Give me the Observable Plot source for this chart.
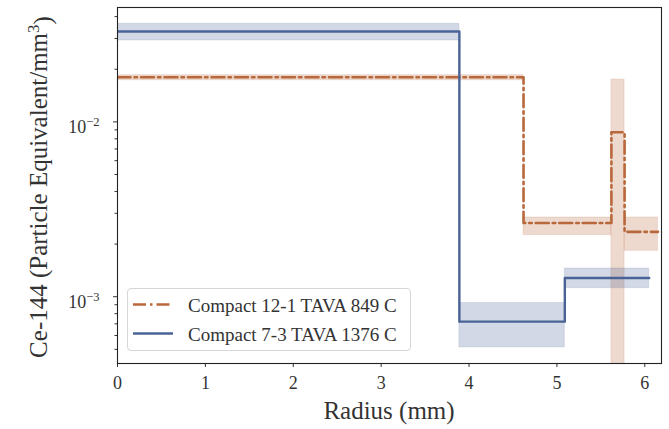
<!DOCTYPE html>
<html>
<head>
<meta charset="utf-8">
<script src="https://cdn.jsdelivr.net/npm/d3@7"></script>
<script src="https://cdn.jsdelivr.net/npm/@observablehq/plot@0.6"></script>
<style>
  body { margin: 0; background: #fff; }
  #wrap { position: relative; width: 669px; height: 429px; overflow: hidden; font-family: "Liberation Serif", "Times New Roman", serif; }
  #legend { position: absolute; left: 127px; top: 288px; width: 284px; height: 63px; box-sizing: border-box;
            border: 1px solid #d6d6d6; border-radius: 4px; background: rgba(255,255,255,0.85); }
  .row { position: absolute; left: 0; height: 28px; width: 100%; }
  .row svg { position: absolute; left: 4px; top: 0; }
  .row span { position: absolute; left: 60px; top: 2px; font-size: 19px; line-height: 24px; color: #333; white-space: nowrap; }
</style>
</head>
<body>
<div id="wrap"></div>
<script>
// ---- data ----
const seriesNames = ["Compact 12-1 TAVA 849 C", "Compact 7-3 TAVA 1376 C"];
const orangeEdges  = [0, 4.62, 5.62, 5.77, 6.15];
const orangeValues = [0.0180, 0.00264, 0.00872, 0.00235];
const orangeLow    = [0.0173, 0.00225, 0.0001, 0.00183];
const orangeHigh   = [0.0185, 0.00284, 0.01746, 0.00284];
const blueEdges  = [0, 3.89, 5.09, 6.05];
const blueValues = [0.0329, 0.00072, 0.00128];
const blueLow    = [0.0292, 0.000513, 0.00112];
const blueHigh   = [0.0364, 0.00092, 0.00145];
const xTicks = [0, 1, 2, 3, 4, 5, 6];
const yMajorTicks = [1e-3, 1e-2];
const yMinorTicks = [5e-4, 6e-4, 7e-4, 8e-4, 9e-4, 2e-3, 3e-3, 4e-3, 5e-3, 6e-3, 7e-3, 8e-3, 9e-3, 2e-2, 3e-2, 4e-2];
const xLabel = "Radius (mm)";
const yLabelMain = "Ce-144 (Particle Equivalent/mm";
const yLabelSup = "3";

const ORANGE = "#b8683a";
const BLUE = "#4a6396";
const DASHDOT = "13,4,2.5,4";

function steps(edges, values) {
  const pts = values.map((v, i) => ({x: edges[i], y: v}));
  pts.push({x: edges[edges.length - 1], y: values[values.length - 1]});
  return pts;
}
function bands(edges, lo, hi) {
  return lo.map((l, i) => ({x1: edges[i], x2: edges[i + 1], y1: l, y2: hi[i]}));
}

const chart = Plot.plot({
  width: 669, height: 429,
  marginLeft: 117, marginRight: 8, marginTop: 7, marginBottom: 66,
  style: {fontFamily: "'Liberation Serif', 'Times New Roman', serif", fontSize: "18px", background: "white", color: "#333"},
  x: {domain: [0, 6.19]},
  y: {type: "log", domain: [4.15e-4, 0.0451]},
  marks: [
    Plot.rect(bands(orangeEdges, orangeLow, orangeHigh), {x1: "x1", x2: "x2", y1: "y1", y2: "y2", fill: ORANGE, fillOpacity: 0.25, stroke: ORANGE, strokeOpacity: 0.15, clip: true}),
    Plot.rect(bands(blueEdges, blueLow, blueHigh), {x1: "x1", x2: "x2", y1: "y1", y2: "y2", fill: BLUE, fillOpacity: 0.25, stroke: BLUE, strokeOpacity: 0.15, clip: true}),
    Plot.line(steps(orangeEdges, orangeValues), {x: "x", y: "y", curve: "step-after", stroke: ORANGE, strokeWidth: 2.6, strokeDasharray: DASHDOT, clip: true}),
    Plot.line(steps(blueEdges, blueValues), {x: "x", y: "y", curve: "step-after", stroke: BLUE, strokeWidth: 2.4, clip: true}),
    Plot.axisX({ticks: xTicks, tickSize: 4, tickPadding: 9, tickFormat: d => String(d), label: null, fontSize: 18}),
    Plot.axisY({ticks: yMinorTicks, tickSize: 2.5, tickFormat: () => "", label: null}),
    Plot.axisY({ticks: yMajorTicks, tickSize: 4, tickPadding: 14, tickFormat: d => "e" + String(Math.round(Math.log10(d))), label: null, fontSize: 18}),
    Plot.frame({stroke: "#222", strokeWidth: 1.1})
  ]
});

document.getElementById("wrap").appendChild(chart);

const svg = d3.select(chart);
// superscript exponents on the major y tick labels only
svg.selectAll('g[aria-label="y-axis tick label"] text').each(function () {
  const s = this.textContent;
  if (!s || s[0] !== "e") return;
  const e = s.slice(1).replace("-", "").replace("\u2212", "");
  const t = d3.select(this);
  t.text("10").attr("y", "0.62em");
  t.append("tspan").attr("dy", "-0.55em").attr("font-size", "12.5px").text("\u2212" + e);
});
// axis labels
svg.append("text").attr("x", 389).attr("y", 419).attr("text-anchor", "middle")
  .attr("font-size", "25px").attr("fill", "#333").text(xLabel);
const yl = svg.append("text").attr("transform", "translate(47,187) rotate(-90)").attr("text-anchor", "middle")
  .attr("font-size", "25px").attr("fill", "#333");
yl.append("tspan").text(yLabelMain);
yl.append("tspan").attr("dy", "-0.45em").attr("font-size", "17px").text(yLabelSup);
yl.append("tspan").attr("dy", "0.45em").text(")");

// legend
const legend = document.createElement("div");
legend.id = "legend";
const styles = [{c: ORANGE, dash: DASHDOT, w: 2.6}, {c: BLUE, dash: null, w: 2.4}];
seriesNames.forEach((name, i) => {
  const row = document.createElement("div");
  row.className = "row";
  row.style.top = (3 + i * 28.5) + "px";
  row.innerHTML = `<svg width="44" height="28"><line x1="1" x2="41" y1="12.5" y2="12.5" stroke="${styles[i].c}" stroke-width="${styles[i].w}" ${styles[i].dash ? `stroke-dasharray="${styles[i].dash}"` : ""}/></svg><span>${name}</span>`;
  legend.appendChild(row);
});
document.getElementById("wrap").appendChild(legend);
</script>
</body>
</html>
